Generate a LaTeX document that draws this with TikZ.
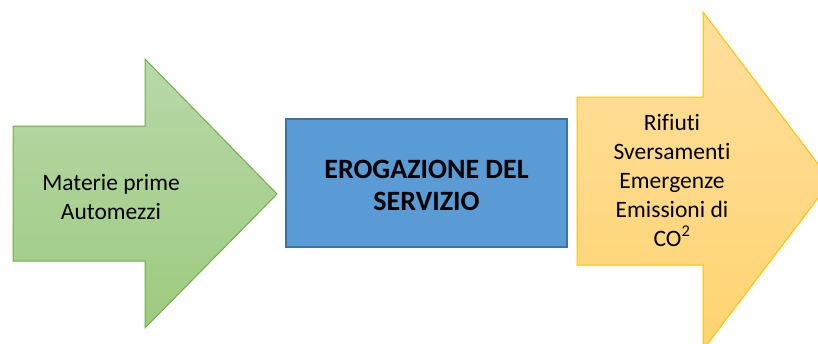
\documentclass[tikz,border=0pt]{standalone}
\usepackage{fontspec}
\setmainfont[Ligatures=NoCommon]{Carlito}
\definecolor{gtop}{HTML}{B8D8A9}
\definecolor{gbot}{HTML}{9DCB7F}
\definecolor{gline}{HTML}{70AD47}
\definecolor{bfill}{HTML}{5B9BD5}
\definecolor{bline}{HTML}{41719C}
\definecolor{otop}{HTML}{FFDF9E}
\definecolor{obot}{HTML}{FFD470}
\definecolor{oline}{HTML}{FFC000}
\begin{document}
\begin{tikzpicture}[x=1pt,y=-1pt,
  lbl/.style={align=center,font=\fontsize{23.5}{29}\selectfont,inner sep=0pt},
  blbl/.style={align=center,font=\fontsize{28}{32}\selectfont\bfseries,inner sep=0pt}]
\useasboundingbox (0,0) rectangle (818,343);
\clip (0,0) rectangle (818,343);
% green arrow
\path[draw=gline,line width=1pt,top color=gtop,bottom color=gbot]
  (13,126) -- (145,126) -- (145,59) -- (277,194) -- (145,328) -- (145,261) -- (13,261) -- cycle;
\node[lbl] (in) at (111,197) {Materie prime\\Automezzi};
% blue box
\node[draw=bline,line width=1.2pt,fill=bfill,minimum width=281pt,minimum height=128pt,inner sep=0pt] (box) at (426.5,183) {};
\node[blbl] (boxt) at (426.5,185) {EROGAZIONE DEL\\SERVIZIO};
% orange arrow
\path[draw=oline,line width=1pt,top color=otop,bottom color=obot]
  (577,97) -- (703,97) -- (703,12) -- (831,181) -- (703,350) -- (703,265) -- (577,265) -- cycle;
\node[lbl] (out) at (672,180) {Rifiuti\\Sversamenti\\Emergenze\\Emissioni di\\CO\textsuperscript{2}};
\end{tikzpicture}
\end{document}
